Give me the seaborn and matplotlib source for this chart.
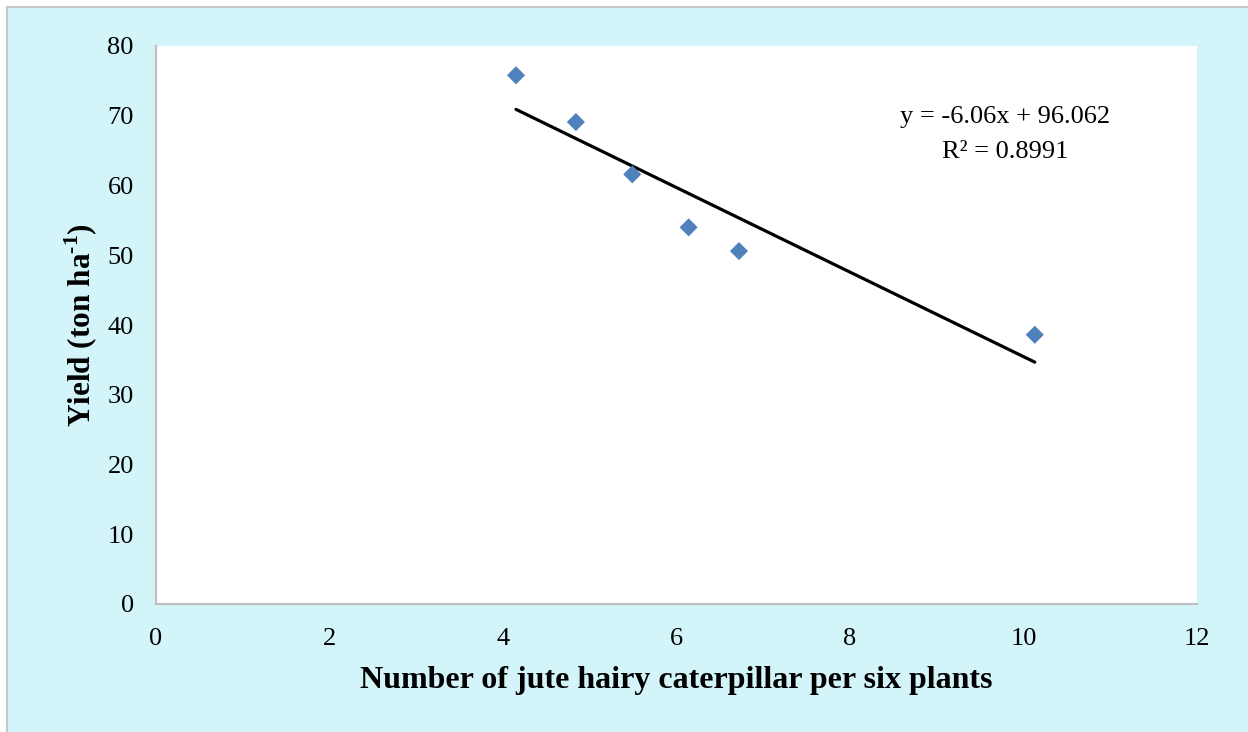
import numpy as np
import matplotlib
matplotlib.use("Agg")
import matplotlib.pyplot as plt
import seaborn as sns
from matplotlib.patches import Rectangle

# 数据
caterpillars = [4.15, 4.84, 5.49, 6.14, 6.72, 10.13]
yields = [75.8, 69.1, 61.6, 54.0, 50.6, 38.6]

# 趋势线系数（图中给出的方程）
slope = -6.06
intercept = 96.062
r_squared = 0.8991

x_ticks = [0, 2, 4, 6, 8, 10, 12]
y_ticks = [0, 10, 20, 30, 40, 50, 60, 70, 80]

sns.set_theme(style="white")
plt.rcParams["font.family"] = ["Liberation Serif", "DejaVu Serif"]
plt.rcParams["mathtext.fontset"] = "custom"
plt.rcParams["mathtext.rm"] = "Liberation Serif"
plt.rcParams["mathtext.bf"] = "Liberation Serif:bold"
plt.rcParams["text.color"] = "black"
plt.rcParams["axes.labelcolor"] = "black"
plt.rcParams["xtick.color"] = "black"
plt.rcParams["ytick.color"] = "black"

fig = plt.figure(figsize=(12.48, 7.32), dpi=100, facecolor="white")
# 浅青色背景 + 左/上灰边
fig.patches.append(Rectangle((7 / 1248, -0.1), 1.2, (732 - 7) / 732 + 0.1,
                             transform=fig.transFigure, facecolor="#D3F5FA",
                             edgecolor="#C8C8C8", linewidth=1.5, zorder=-10))

ax = fig.add_axes([156 / 1248, 128 / 732, (1197 - 156) / 1248, (604 - 46) / 732])
ax.set_zorder(5)
ax.set_facecolor("white")

sns.scatterplot(x=caterpillars, y=yields, marker="D", s=85, color="#4F81BD",
                edgecolor="none", ax=ax, zorder=3)

trend_x = np.array([min(caterpillars), max(caterpillars)])
trend_y = slope * trend_x + intercept
sns.lineplot(x=trend_x, y=trend_y, color="black", linewidth=2.3, ax=ax, zorder=2)

ax.text(9.79, 69.8, f"y = {slope}x + {intercept}", ha="center", va="center", fontsize=19)
ax.text(9.79, 64.8, f"R² = {r_squared}", ha="center", va="center", fontsize=19)

ax.set_xlim(0, 12)
ax.set_ylim(0, 80)
ax.set_xticks(x_ticks)
ax.set_yticks(y_ticks)
ax.tick_params(axis="both", length=0, labelsize=19)
ax.tick_params(axis="x", pad=17)
ax.tick_params(axis="y", pad=16)

for side in ["top", "right"]:
    ax.spines[side].set_visible(False)
for side in ["left", "bottom"]:
    ax.spines[side].set_color("#BFBFBF")
    ax.spines[side].set_linewidth(1.5)

ax.set_xlabel("Number of jute hairy caterpillar per six plants", fontsize=23,
              fontweight="bold", labelpad=12)
ax.set_ylabel("Yield (ton ha$^{\\mathbf{\u2010}\\mathbf{1}}$)", fontsize=22.5,
              fontweight="bold", labelpad=5)

fig.savefig("out.png", dpi=100, facecolor=fig.get_facecolor())
